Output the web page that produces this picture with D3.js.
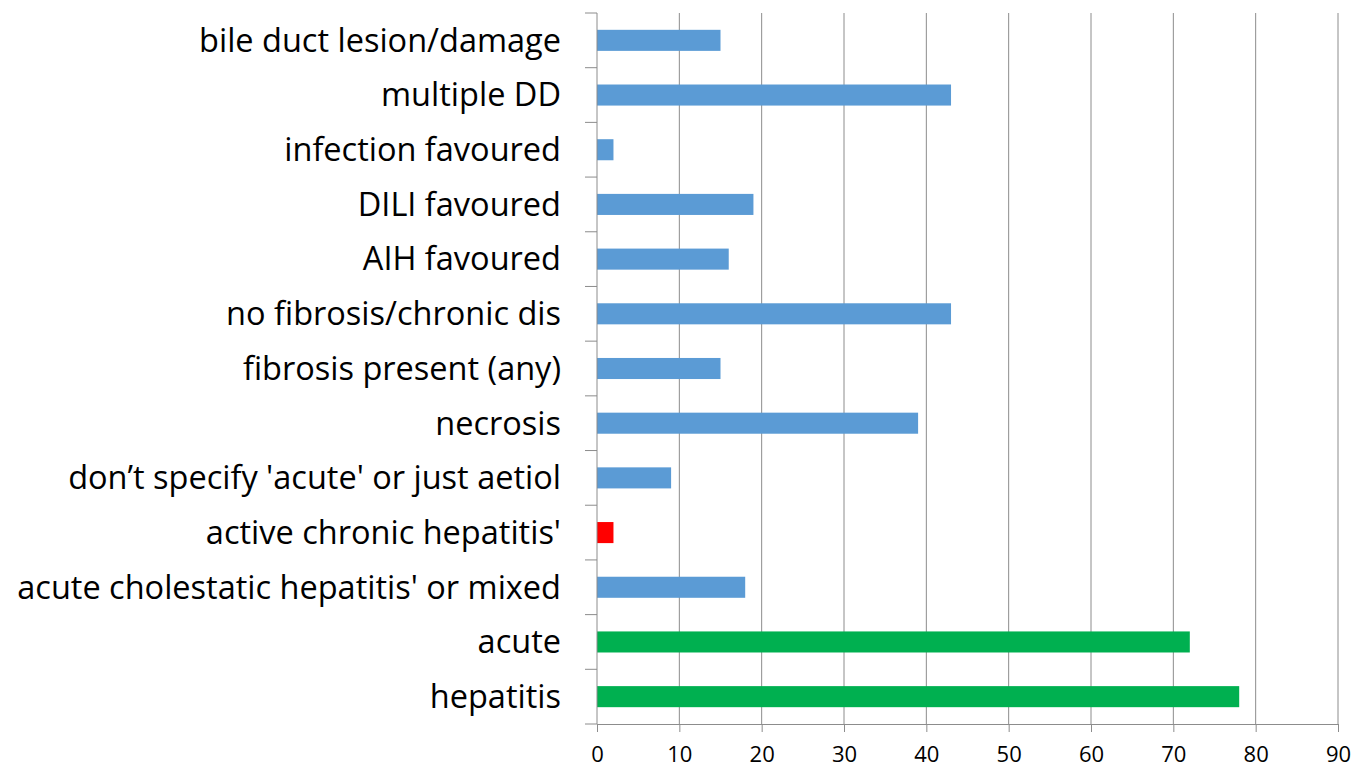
<!DOCTYPE html>
<html>
<head>
<meta charset="utf-8">
<script src="https://cdn.jsdelivr.net/npm/d3@7"></script>
<style>
  body { margin: 0; background: #fff; overflow: hidden; }
  svg { display: block; }
  text { font-family: "Open Sans", "Liberation Sans", sans-serif; fill: #000; }
</style>
</head>
<body>
<svg id="chart"></svg>
<script>
// categories top to bottom
var categories = [
  "bile duct lesion/damage",
  "multiple DD",
  "infection favoured",
  "DILI favoured",
  "AIH favoured",
  "no fibrosis/chronic dis",
  "fibrosis present (any)",
  "necrosis",
  "don\u2019t specify 'acute' or just aetiol",
  "active chronic hepatitis'",
  "acute cholestatic hepatitis' or mixed",
  "acute",
  "hepatitis"
];
var counts = [15, 43, 2, 19, 16, 43, 15, 39, 9, 2, 18, 72, 78];
var barColors = ["#5B9BD5", "#5B9BD5", "#5B9BD5", "#5B9BD5", "#5B9BD5", "#5B9BD5",
  "#5B9BD5", "#5B9BD5", "#5B9BD5", "#FF0000", "#5B9BD5", "#00B050", "#00B050"];
var xTicks = [0, 10, 20, 30, 40, 50, 60, 70, 80, 90];

var margin = { top: 13, right: 17, bottom: 45, left: 597 },
  width = 1355 - margin.left - margin.right,
  height = 769 - margin.top - margin.bottom;

var svg = d3.select("#chart")
  .attr("width", width + margin.left + margin.right)
  .attr("height", height + margin.top + margin.bottom)
  .append("g")
  .attr("transform", "translate(" + margin.left + "," + margin.top + ")");

var x = d3.scaleLinear().domain([0, 90]).range([0, width]);
var y = d3.scaleBand().domain(categories).range([0, height]).paddingInner(0.615).paddingOuter(0.3075);
var band = height / categories.length;

// vertical gridlines
svg.selectAll("line.grid")
  .data(xTicks.slice(1))
  .enter()
  .append("line")
  .attr("class", "grid")
  .attr("x1", function (d) { return x(d); })
  .attr("x2", function (d) { return x(d); })
  .attr("y1", 0)
  .attr("y2", height)
  .style("stroke", "#8c8c8c")
  .style("stroke-width", 1);

// bars
svg.selectAll("rect.bar")
  .data(categories)
  .enter()
  .append("rect")
  .attr("class", "bar")
  .attr("x", x(0))
  .attr("y", function (d) { return y(d); })
  .attr("width", function (d, i) { return x(counts[i]) - x(0); })
  .attr("height", y.bandwidth())
  .attr("fill", function (d, i) { return barColors[i]; });

// x axis
var xAxis = svg.append("g")
  .attr("transform", "translate(0," + height + ")")
  .call(d3.axisBottom(x).tickValues(xTicks).tickSize(8).tickPadding(14));
xAxis.select(".domain").style("stroke", "#8c8c8c");
xAxis.selectAll(".tick line").style("stroke", "#8c8c8c");
xAxis.selectAll("text")
  .style("font-size", "22px")
  .style("fill", "#000");

// y axis line with category tick marks between bands
svg.append("line")
  .attr("x1", 0).attr("x2", 0)
  .attr("y1", 0).attr("y2", height)
  .style("stroke", "#8c8c8c");
svg.selectAll("line.ytick")
  .data(d3.range(categories.length + 1))
  .enter()
  .append("line")
  .attr("class", "ytick")
  .attr("x1", -12).attr("x2", 0)
  .attr("y1", function (d) { return d * band; })
  .attr("y2", function (d) { return d * band; })
  .style("stroke", "#8c8c8c");

// category labels
svg.selectAll("text.cat")
  .data(categories)
  .enter()
  .append("text")
  .attr("class", "cat")
  .attr("x", -36)
  .attr("y", function (d) { return y(d) + y.bandwidth() / 2; })
  .attr("dy", "0.35em")
  .style("text-anchor", "end")
  .style("font-size", "32.5px")
  .text(function (d) { return d; });
</script>
</body>
</html>
